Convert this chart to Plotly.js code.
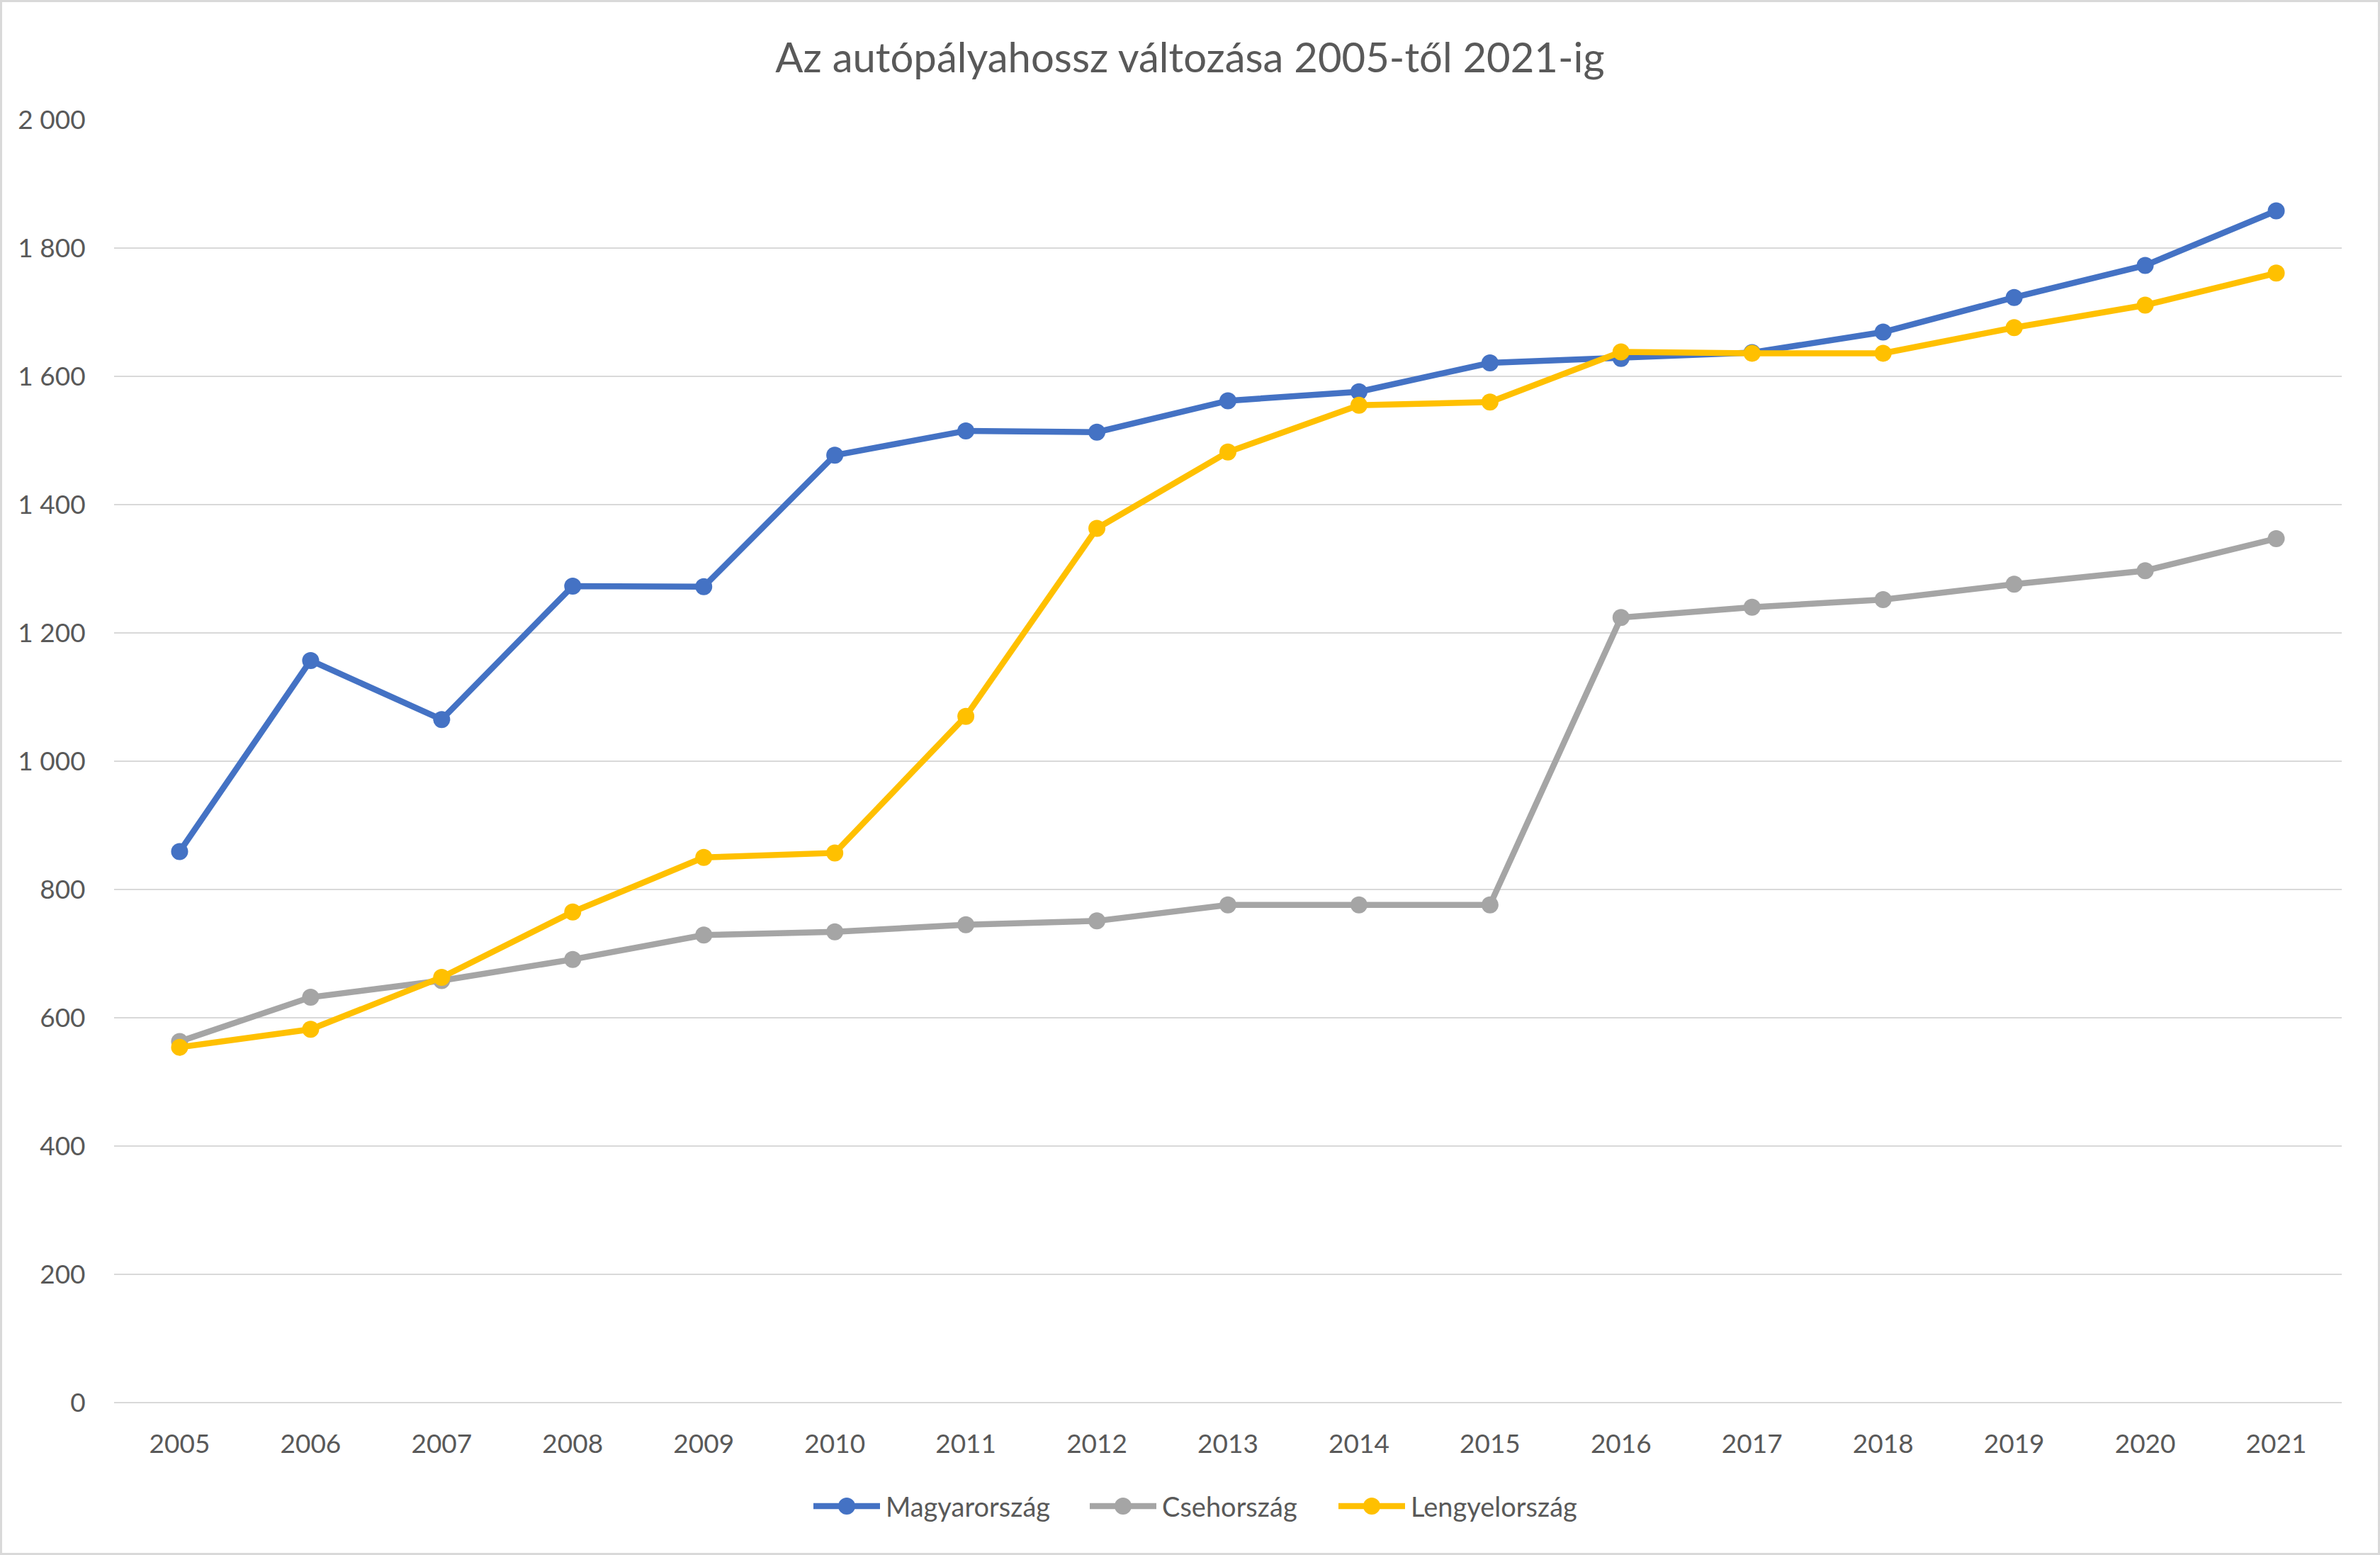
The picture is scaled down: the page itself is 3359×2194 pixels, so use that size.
<!DOCTYPE html>
<html>
<head>
<meta charset="utf-8">
<script src="https://cdn.plot.ly/plotly-3.0.1.min.js"></script>
<style>
html,body{margin:0;padding:0;background:#fff;}
#chart{width:3359px;height:2194px;box-sizing:border-box;border:3px solid #d9d9d9;}
</style>
</head>
<body>
<div id="chart"></div>
<script>
const years = ['2005','2006','2007','2008','2009','2010','2011','2012','2013','2014','2015','2016','2017','2018','2019','2020','2021'];
const magyarorszag = [859,1157,1065,1273,1272,1477,1515,1513,1562,1576,1621,1628,1637,1669,1723,1773,1858];
const csehorszag = [563,632,658,691,729,734,745,751,776,776,776,1224,1240,1252,1276,1297,1347];
const lengyelorszag = [554,582,663,765,850,857,1070,1363,1482,1555,1560,1638,1636,1636,1676,1711,1761];
const seriesNames = ['Magyarország','Csehország','Lengyelország'];
const yTickVals = [0,200,400,600,800,1000,1200,1400,1600,1800,2000];
const yTickText = ['0','200','400','600','800','1 000','1 200','1 400','1 600','1 800','2 000'];
const titleText = 'Az autópályahossz változása 2005-től 2021-ig';

const colors = ['#4472C4','#A5A5A5','#FFC000'];
const FONT = 'Lato, "Open Sans", sans-serif';
const TEXT = '#595959';
const allSeries = [magyarorszag, csehorszag, lengyelorszag];
const traces = allSeries.map((vals, i) => ({
  type: 'scatter',
  mode: 'lines+markers',
  x: years,
  y: vals,
  name: seriesNames[i],
  showlegend: false,
  line: {color: colors[i], width: 8.5},
  marker: {color: colors[i], size: 24}
}));

// layout geometry (inner size of the bordered container)
const W = 3353, H = 2188;
const M = {l: 158, r: 51, t: 166, b: 212};
const PW = W - M.l - M.r, PH = H - M.t - M.b;
const px2x = p => (p - 3 - M.l) / PW;
const py2y = p => 1 - (p - 3 - M.t) / PH;

// custom legend (Excel-style long line symbols)
const legendY = py2y(2125);
const legendStarts = [1148, 1538, 1889];
const symLen = 94;
const shapes = [];
const annotations = [];
seriesNames.forEach((name, i) => {
  const x0 = legendStarts[i];
  shapes.push({type: 'line', xref: 'paper', yref: 'paper',
    x0: px2x(x0), x1: px2x(x0 + symLen), y0: legendY, y1: legendY,
    line: {color: colors[i], width: 8.5}});
  const cx = x0 + symLen / 2, r = 12;
  shapes.push({type: 'circle', xref: 'paper', yref: 'paper',
    x0: px2x(cx - r), x1: px2x(cx + r), y0: legendY - r / PH, y1: legendY + r / PH,
    fillcolor: colors[i], line: {width: 0}});
  annotations.push({xref: 'paper', yref: 'paper', x: px2x(x0 + symLen + 6), y: legendY,
    xanchor: 'left', yanchor: 'middle', showarrow: false, text: name,
    font: {family: FONT, size: 38, color: TEXT}});
});

const layout = {
  width: W,
  height: H,
  margin: M,
  paper_bgcolor: '#ffffff',
  plot_bgcolor: '#ffffff',
  font: {family: FONT, color: TEXT, size: 37},
  title: {
    text: titleText,
    font: {family: FONT, size: 58, color: TEXT},
    x: 0.5, xanchor: 'center',
    y: 1 - 79/H, yanchor: 'middle'
  },
  xaxis: {
    type: 'category',
    range: [-0.5, years.length - 0.5],
    automargin: false,
    showgrid: false,
    zeroline: false,
    showline: false,
    ticks: 'outside',
    ticklen: 26,
    tickcolor: 'rgba(0,0,0,0)',
    tickfont: {family: FONT, size: 37, color: TEXT},
    fixedrange: true
  },
  yaxis: {
    range: [0, 2000],
    automargin: false,
    tickvals: yTickVals,
    ticktext: yTickText,
    showgrid: true,
    gridcolor: '#d9d9d9',
    gridwidth: 2.5,
    zeroline: true,
    zerolinecolor: '#d9d9d9',
    zerolinewidth: 2.5,
    showline: false,
    ticks: 'outside',
    ticklen: 32,
    tickcolor: 'rgba(0,0,0,0)',
    tickfont: {family: FONT, size: 37, color: TEXT},
    fixedrange: true
  },
  showlegend: false,
  shapes: shapes,
  annotations: annotations
};

Plotly.newPlot('chart', traces, layout, {displayModeBar: false, staticPlot: true});
</script>
</body>
</html>
